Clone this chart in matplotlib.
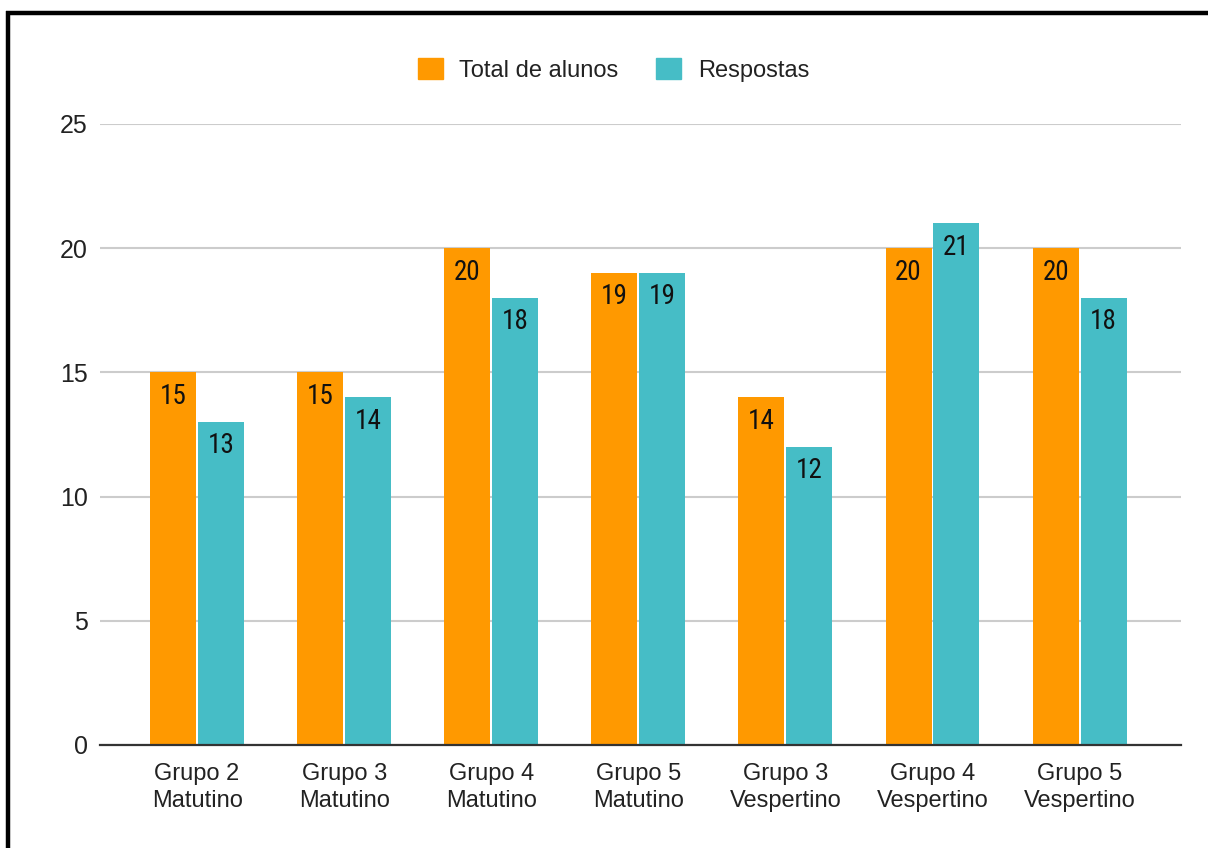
import matplotlib.pyplot as plt
import numpy as np
from matplotlib.lines import Line2D
from matplotlib.patches import Patch

groups = ["Grupo 2\nMatutino", "Grupo 3\nMatutino", "Grupo 4\nMatutino", "Grupo 5\nMatutino",
          "Grupo 3\nVespertino", "Grupo 4\nVespertino", "Grupo 5\nVespertino"]
total_alunos = [15, 15, 20, 19, 14, 20, 20]
respostas = [13, 14, 18, 19, 12, 21, 18]
yticks = [0, 5, 10, 15, 20, 25]

orange = "#FF9900"
teal = "#46BDC6"

plt.rcParams["font.family"] = ["Liberation Sans", "DejaVu Sans"]

fig = plt.figure(figsize=(12.08, 8.48), dpi=100)
ax = fig.add_axes([0.0828, 0.1215, 0.8949, 0.7323])

x = np.arange(len(groups))
w = 0.313
off = 0.163
b1 = ax.bar(x - off, total_alunos, w, color=orange, zorder=3)
b2 = ax.bar(x + off, respostas, w, color=teal, zorder=3)

for bars, vals in ((b1, total_alunos), (b2, respostas)):
    for rect, v in zip(bars, vals):
        ax.annotate(str(v), (rect.get_x() + rect.get_width() / 2, v),
                    xytext=(0, -7.5), textcoords="offset points",
                    ha="center", va="top", fontsize=19.5,
                    family=["Roboto Condensed", "Roboto"],
                    color="#111111", zorder=4)

ax.set_xlim(-0.66, 6.69)
ax.set_ylim(0, 25)
ax.set_yticks(yticks)
ax.set_xticks(x)
ax.set_xticklabels(groups, linespacing=1.3)
ax.tick_params(axis="both", length=0, labelsize=17, colors="#222222")
ax.tick_params(axis="y", pad=9, labelsize=18)
ax.tick_params(axis="x", pad=13)
ax.grid(axis="y", color="#CCCCCC", linewidth=1.5, zorder=0)
for s in ("top", "right", "left"):
    ax.spines[s].set_visible(False)
ax.spines["bottom"].set_color("#333333")
ax.spines["bottom"].set_linewidth(1.6)
ax.spines["bottom"].set_zorder(5)

handles = [Patch(color=orange, label="Total de alunos"),
           Patch(color=teal, label="Respostas")]
fig.legend(handles=handles, loc="center", bbox_to_anchor=(0.508, 0.918), ncol=2,
           frameon=False, fontsize=17, handlelength=1.05, handleheight=1.05,
           handletextpad=0.7, columnspacing=1.6, labelcolor="#222222")

# black frame along top and left edges
fig.add_artist(Line2D([0.0048, 1.0], [0.9847, 0.9847], color="black", linewidth=3.2,
                      solid_capstyle="butt", transform=fig.transFigure))
fig.add_artist(Line2D([0.0066, 0.0066], [0.0, 0.9873], color="black", linewidth=3.2,
                      solid_capstyle="butt", transform=fig.transFigure))

fig.savefig("out.png", dpi=100)
